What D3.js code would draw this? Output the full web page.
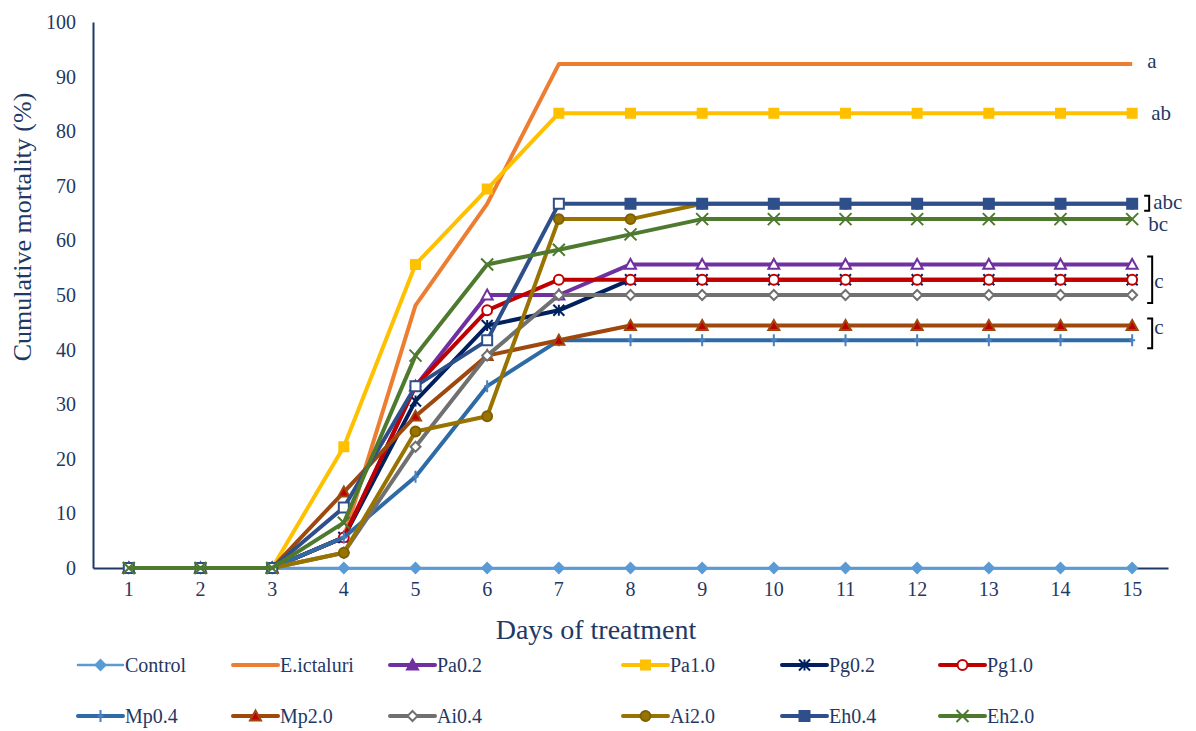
<!DOCTYPE html>
<html>
<head>
<meta charset="utf-8">
<script src="https://cdn.jsdelivr.net/npm/d3@7"></script>
</head>
<body style="margin:0;padding:0;background:#fff;">
<svg id="chart" width="1196" height="731" style="display:block;font-family:'Liberation Serif';"></svg>
<script>
// ---------- data ----------
const days = [1,2,3,4,5,6,7,8,9,10,11,12,13,14,15];
const yTicks = [0,10,20,30,40,50,60,70,80,90,100];

const seriesNames = ["Control","E.ictaluri","Pa0.2","Pa1.0","Pg0.2","Pg1.0","Mp0.4","Mp2.0","Ai0.4","Ai2.0","Eh0.4","Eh2.0"];

const control   = [0,0,0,0,0,0,0,0,0,0,0,0,0,0,0];
const eIctaluri = [0,0,0,5.6,48.1,66.7,92.3,92.3,92.3,92.3,92.3,92.3,92.3,92.3,92.3];
const pa02      = [0,0,0,5.6,33.3,50,50,55.6,55.6,55.6,55.6,55.6,55.6,55.6,55.6];
const pa10      = [0,0,0,22.2,55.6,69.4,83.3,83.3,83.3,83.3,83.3,83.3,83.3,83.3,83.3];
const pg02      = [0,0,0,5.6,30.6,44.4,47.2,52.8,52.8,52.8,52.8,52.8,52.8,52.8,52.8];
const pg10      = [0,0,0,5.6,33.3,47.2,52.8,52.8,52.8,52.8,52.8,52.8,52.8,52.8,52.8];
const mp04      = [0,0,0,5.6,16.7,33.3,41.7,41.7,41.7,41.7,41.7,41.7,41.7,41.7,41.7];
const mp20      = [0,0,0,13.9,27.8,38.9,41.7,44.4,44.4,44.4,44.4,44.4,44.4,44.4,44.4];
const ai04      = [0,0,0,2.8,22.2,38.9,50,50,50,50,50,50,50,50,50];
const ai20      = [0,0,0,2.8,25,27.8,63.9,63.9,66.7,66.7,66.7,66.7,66.7,66.7,66.7];
const eh04      = [0,0,0,11.1,33.3,41.7,66.7,66.7,66.7,66.7,66.7,66.7,66.7,66.7,66.7];
const eh20      = [0,0,0,8.3,38.9,55.6,58.3,61.1,63.9,63.9,63.9,63.9,63.9,63.9,63.9];

const seriesValues = [control,eIctaluri,pa02,pa10,pg02,pg10,mp04,mp20,ai04,ai20,eh04,eh20];

// significance letters
const sigLabels = ["a","ab","abc","bc","c","c"];

// ---------- styles ----------
const styles = {
  "Control":   {color:"#5B9BD5", width:2.5, marker:"diamond",  fill:"#5B9BD5", mstroke:"#5B9BD5", size:10},
  "E.ictaluri":{color:"#ED7D31", width:4,   marker:"none"},
  "Pa0.2":     {color:"#7030A0", width:4,   marker:"triangle", fill:"#fff", mstroke:"#7030A0", size:11, legendFill:"#7030A0"},
  "Pa1.0":     {color:"#FFC000", width:4,   marker:"square",   fill:"#FFC000", mstroke:"#FFC000", size:9},
  "Pg0.2":     {color:"#002060", width:4,   marker:"asterisk", fill:"none", mstroke:"#002060", size:11},
  "Pg1.0":     {color:"#C00000", width:4,   marker:"circle",   fill:"#fff", mstroke:"#C00000", size:11},
  "Mp0.4":     {color:"#2E6BA6", width:4,   marker:"plus",     fill:"none", mstroke:"#4A7FC0", size:12},
  "Mp2.0":     {color:"#9E480E", width:4,   marker:"triangle", fill:"#C00000", mstroke:"#9E480E", size:11},
  "Ai0.4":     {color:"#707070", width:4,   marker:"diamond",  fill:"#fff", mstroke:"#707070", size:10},
  "Ai2.0":     {color:"#997300", width:4,   marker:"circle",   fill:"#997300", mstroke:"#7F6000", size:11},
  "Eh0.4":     {color:"#2F4F8A", width:4,   marker:"square",   fill:"#2F4F8A", mstroke:"#2F4F8A", size:10, openBefore:8},
  "Eh2.0":     {color:"#4E7A2F", width:4,   marker:"x",        fill:"none", mstroke:"#4E7A2F", size:12}
};

const FONT = '"Liberation Serif"';
const TXT = "#1F3864";

// ---------- layout ----------
const svg = d3.select("#chart");
const plot = {left:93, right:1168, top:22, bottom:568};

const x = d3.scaleBand().domain(days).range([plot.left, plot.right]);
const xc = d => x(d) + x.bandwidth()/2;
const y = d3.scaleLinear().domain([0,100]).range([plot.bottom, plot.top]);

function styleText(sel, size) {
  sel.style("font-family", FONT).style("font-size", size + "px").style("fill", TXT);
}

// axes
const yAxis = d3.axisLeft(y).tickValues(yTicks).tickSize(0).tickPadding(17);
const gy = svg.append("g").attr("transform",`translate(${plot.left},0)`).call(yAxis);
gy.select(".domain").attr("stroke","#1F3864").attr("stroke-width",2);
styleText(gy.selectAll(".tick text"), 20);

const xAxis = d3.axisBottom(x).tickSize(0).tickPadding(14);
const gx = svg.append("g").attr("transform",`translate(0,${plot.bottom})`).call(xAxis);
gx.select(".domain").attr("stroke","#1F3864").attr("stroke-width",2);
styleText(gx.selectAll(".tick text"), 20);

// axis titles
styleText(svg.append("text").attr("x",596).attr("y",639).attr("text-anchor","middle")
  .text("Days of treatment"), 28);
styleText(svg.append("text").attr("transform","translate(31,227) rotate(-90)").attr("text-anchor","middle")
  .text("Cumulative mortality (%)"), 26);

// marker path generator
function markerPath(type, s) {
  const h = s/2;
  switch(type) {
    case "diamond": return `M0,${-h}L${h},0L0,${h}L${-h},0Z`;
    case "triangle": return `M0,${-h}L${h},${h*0.8}L${-h},${h*0.8}Z`;
    case "square": return `M${-h},${-h}H${h}V${h}H${-h}Z`;
    case "circle": return d3.symbol(d3.symbolCircle, Math.PI*h*h*0.8)();
    case "asterisk": return `M${-h},${-h}L${h},${h}M${-h},${h}L${h},${-h}M0,${-h}V${h}`;
    case "plus": return `M0,${-h}V${h}M${-h*0.5},0H${h*0.5}`;
    case "x": return `M${-h},${-h}L${h},${h}M${-h},${h}L${h},${-h}`;
    default: return "";
  }
}

const line = d3.line().x((d,i)=>xc(days[i])).y(d=>y(d));

const gSeries = svg.append("g");
seriesNames.forEach((name, si) => {
  const st = styles[name];
  const vals = seriesValues[si];
  const g = gSeries.append("g");
  g.append("path").attr("d", line(vals)).attr("fill","none")
    .attr("stroke", st.color).attr("stroke-width", st.width).attr("stroke-linejoin","round");
  if (st.marker !== "none") {
    g.selectAll("path.m").data(vals).enter().append("path").attr("class","m")
      .attr("transform",(d,i)=>`translate(${xc(days[i])},${y(d)})`)
      .attr("d", markerPath(st.marker, st.size))
      .attr("fill", (d,i) => (st.openBefore && days[i] < st.openBefore) ? "#fff" : st.fill)
      .attr("stroke", st.mstroke).attr("stroke-width", 2);
  }
});

// significance letters with brackets
const lastX = xc(15);
const sigG = svg.append("g");
function letter(txt, xx, val, dy) {
  styleText(sigG.append("text").attr("x", xx).attr("y", y(val)+dy).text(txt), 21);
}
function bracket(top, bot, bx) {
  sigG.append("path").attr("d",`M${bx-5},${top}H${bx}V${bot}H${bx-5}`)
    .attr("fill","none").attr("stroke","#000").attr("stroke-width",2);
}
letter(sigLabels[0], lastX+15, eIctaluri[14], 4);
letter(sigLabels[1], lastX+19, pa10[14], 7);
bracket(y(eh04[14])-8, y(eh04[14])+7, lastX+17);
letter(sigLabels[2], lastX+21, eh04[14], 5);
letter(sigLabels[3], lastX+16, eh20[14], 12);
bracket(y(pa02[14])-8, y(ai04[14])+8, lastX+20);
letter(sigLabels[4], lastX+22, pg10[14], 8);
bracket(y(mp20[14])-7, y(mp04[14])+8, lastX+20);
letter(sigLabels[5], lastX+22, mp20[14], 8);

// legend
const legCols = [78, 233, 390, 623, 782, 940];
const legRows = [665, 716];
const leg = svg.append("g");
seriesNames.forEach((name, i) => {
  const st = styles[name];
  const col = i % 6, row = Math.floor(i / 6);
  const lx = legCols[col], ly = legRows[row];
  const g = leg.append("g").attr("transform",`translate(${lx},${ly})`);
  g.append("line").attr("x1",0).attr("x2",45).attr("y1",0).attr("y2",0)
    .attr("stroke",st.color).attr("stroke-width",st.width).attr("stroke-linecap","round");
  if (st.marker !== "none") {
    g.append("path").attr("transform","translate(22.5,0)")
      .attr("d", markerPath(st.marker, st.size))
      .attr("fill", st.legendFill || st.fill).attr("stroke", st.mstroke).attr("stroke-width",2);
  }
  styleText(g.append("text").attr("x",47).attr("y",7).text(name), 20);
});
</script>
</body>
</html>
